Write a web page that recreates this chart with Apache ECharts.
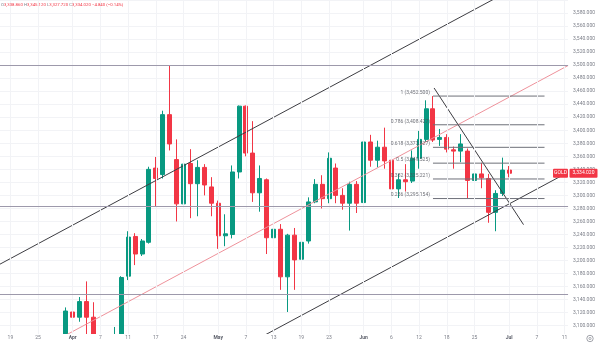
<!DOCTYPE html>
<html>
<head>
<meta charset="utf-8">
<script src="https://cdn.jsdelivr.net/npm/echarts@6/dist/echarts.min.js"></script>
<style>
html,body{margin:0;padding:0;background:#fff;}
#chart{width:600px;height:347px;}
</style>
</head>
<body>
<div id="chart"></div>
<script>
// Daily GOLD bars (trading days); null = outside the visible price range / future slots
const dates = [
  '2025-03-18','2025-03-19','2025-03-20','2025-03-21','2025-03-24','2025-03-25','2025-03-26','2025-03-27','2025-03-28',
  '2025-03-31',
  '2025-04-01','2025-04-02','2025-04-03','2025-04-04','2025-04-07','2025-04-08','2025-04-09','2025-04-10','2025-04-11',
  '2025-04-14','2025-04-15','2025-04-16','2025-04-17','2025-04-21','2025-04-22','2025-04-23','2025-04-24','2025-04-25',
  '2025-04-28','2025-04-29','2025-04-30',
  '2025-05-01','2025-05-02','2025-05-05','2025-05-06','2025-05-07','2025-05-08','2025-05-09','2025-05-12','2025-05-13',
  '2025-05-14','2025-05-15','2025-05-16','2025-05-19','2025-05-20','2025-05-21','2025-05-22','2025-05-23','2025-05-27',
  '2025-05-28','2025-05-29','2025-05-30',
  '2025-06-02','2025-06-03','2025-06-04','2025-06-05','2025-06-06','2025-06-09','2025-06-10','2025-06-11','2025-06-12',
  '2025-06-13','2025-06-16','2025-06-17','2025-06-18','2025-06-20','2025-06-23','2025-06-24','2025-06-25','2025-06-26',
  '2025-06-27','2025-06-30',
  '2025-07-01','2025-07-02','2025-07-03','2025-07-04','2025-07-07','2025-07-08','2025-07-09','2025-07-10','2025-07-11',
  '2025-07-14'
];

const opens = [
  null,null,null,null,null,null,null,null,null,3084,
  3121,3113,3137,3113,null,null,2982,3083,3176,
  3237,3210,3228,3342,3332,3424,3355,3287,3349,
  3318,3343,3313,
  3288,3238,3240,3336,3437,3365,3304,3324,3235,
  3248,3175,3239,3202,3230,3290,3317,3295,3342,
  3300,3288,3317,
  3289,3382,3354,3374,3354,3310,3324,3322,3357,
  3386,3433,3386,3389,3370,3368,3368,3323,3333,
  3326,3274,
  3303,3338.86,null,null,null,null,null,null,null,
  null
];
const closes = [
  null,null,null,null,null,null,null,null,null,3122.5,
  3113,3137,3113,3037,null,null,3083,3174,3236,
  3210,3230,3340,3326,3424,3379,3287,3348,3318,
  3343,3316,3288,
  3238,3241,3336,3437,3365,3304,3326,3235,3248,
  3175,3239,3201,3228,3290,3317,3295,3357,3300,
  3288,3317,3288,
  3382,3354,3374,3353,3310,3324,3321,3357,3386,
  3433,3385,3389,3371,3368,3379,3323,3333,3327,
  3274,3303,
  3338.86,3334.02,null,null,null,null,null,null,null,
  null
];
const lows = [
  null,null,null,null,null,null,null,null,null,3076,
  3100,3106,3054,3015,null,null,2970,3073,3170,
  3193,3207,3226,3283,3326,3369,3260,3283,3265,
  3268,3300,3268,
  3218,3222,3234,3326,3360,3290,3275,3210,3215,
  3155,3121,3155,3189,3226,3288,3280,3288,3288,
  3278,3246,3273,
  3286,3344,3343,3341,3307,3296,3306,3319,3341,
  3382,3382,3376,3366,3341,3351,3296,3311,3311,
  3258,3245,
  3299,3327.72,null,null,null,null,null,null,null,
  null
];
const highs = [
  null,null,null,null,null,null,null,null,null,3128,
  3149,3144,3168,3136,null,null,3098,3176,3245,
  3242,3233,3344,3359,3430,3500,3386,3369,3371,
  3354,3348,3328,
  3292,3271,3346,3438,3438,3414,3346,3326,3255,
  3256,3241,3250,3250,3297,3325,3331,3366,3349,
  3311,3321,3322,
  3384,3393,3384,3404,3375,3333,3348,3369,3399,
  3446,3452.5,3402,3394,3375,3394,3372,3350,3350,
  3333,3308,
  3358,3345.12,null,null,null,null,null,null,null,
  null
];

// Time-scale labels, keyed by bar slot
const tickText = {
  1:'19', 5:'25', 10:'Apr', 14:'7', 18:'11', 22:'17', 26:'24', 31:'May', 35:'7', 39:'13',
  43:'19', 47:'23', 52:'Jun', 56:'6', 60:'12', 64:'18', 68:'25', 73:'Jul', 77:'7', 81:'11'
};
const monthNames = ['Apr','May','Jun','Jul'];

// Price scale
const priceMin = 3080, priceMax = 3600, priceStep = 20;
const priceLabelMin = 3100, priceLabelMax = 3580;

// Drawings: [bar slot, price]
const channelUpper  = [[-1, 3191.6], [71, 3602.6]];
const channelMiddle = [[5, 3062.6], [81.5, 3499.4]];
const channelLower  = [[35, 3070.0], [81.5, 3335.5]];
const trendLine     = [[62.16, 3464.9], [75.07, 3255.1]];
const levelLines    = [3500, 3284, 3149];
const fibRatios     = ['1', '0.786', '0.618', '0.5', '0.382', '0.236'];
const fibPrices     = [3452.5, 3408.427, 3373.827, 3349.525, 3325.221, 3295.154];
const fibSpan       = [62, 78.1];
const symbolName    = 'GOLD';

const UP = '#089981', DOWN = '#f23645', TXT = '#7b7e88';
const FONT = 'Roboto, "Liberation Sans", sans-serif';

const fmt3 = v => v.toLocaleString('en-US', {minimumFractionDigits: 3, maximumFractionDigits: 3});

const candles = dates.map((d, i) =>
  opens[i] == null ? '-' : [opens[i], closes[i], lows[i], highs[i]]);

const lastIdx = closes.reduce((acc, v, i) => (v != null ? i : acc), 0);
const lastClose = closes[lastIdx];
const prevClose = closes[lastIdx - 1];

const chart = echarts.init(document.getElementById('chart'), null, {renderer: 'canvas'});

const barW = 6.97;
const drawLine = (data, color, width) => ({
  type: 'line', xAxisIndex: 1, yAxisIndex: 0, data: data,
  showSymbol: false, symbol: 'none', silent: true, z: 4,
  lineStyle: {color: color, width: width}
});

const option = {
  animation: false,
  backgroundColor: '#ffffff',
  grid: {left: 3.5 - barW, top: -4.2, width: barW * dates.length, height: 342.9, containLabel: false},
  xAxis: [
    {
      type: 'category', data: dates, boundaryGap: true, z: 100,
      axisLine: {show: false}, axisTick: {show: false}, splitLine: {show: false},
      axisLabel: {
        interval: 0, margin: -3, fontSize: 5, color: TXT, fontFamily: FONT,
        formatter: (val, idx) => {
          const t = tickText[idx];
          if (!t) return '';
          return monthNames.includes(t) ? '{m|' + t + '}' : t;
        },
        rich: {m: {fontSize: 5, fontWeight: 'bold', color: '#5d606b', fontFamily: FONT}}
      }
    },
    {type: 'value', min: -0.5, max: dates.length - 0.5, show: false}
  ],
  yAxis: {
    type: 'value', position: 'right', min: priceMin, max: priceMax, interval: priceStep, scale: true,
    axisLine: {show: false}, axisTick: {show: false},
    splitLine: {lineStyle: {color: '#f2f3f6', width: 1}},
    axisLabel: {
      margin: 5, fontSize: 5, color: TXT, fontFamily: FONT, align: 'left',
      formatter: v => (v < priceLabelMin || v > priceLabelMax) ? '' : fmt3(v)
    }
  },
  series: [
    {
      // faint vertical grid at time-scale labels
      type: 'line', xAxisIndex: 0, data: [], silent: true, z: 0,
      markLine: {
        silent: true, symbol: ['none', 'none'], label: {show: false}, animation: false,
        lineStyle: {color: '#f2f3f6', width: 1, type: 'solid'},
        data: Object.keys(tickText).map(k => ({xAxis: Number(k)}))
      }
    },
    {
      type: 'candlestick', xAxisIndex: 0, yAxisIndex: 0, data: candles, barWidth: 4.5, z: 2,
      itemStyle: {color: UP, color0: DOWN, borderColor: UP, borderColor0: DOWN, borderWidth: 1}
    },
    {
      // horizontal support / resistance lines
      type: 'line', xAxisIndex: 1, data: [], silent: true, z: 3,
      markLine: {
        silent: true, symbol: ['none', 'none'], label: {show: false}, animation: false,
        lineStyle: {color: '#9d99ab', width: 1, type: 'solid'},
        data: levelLines.map(v => ({yAxis: v}))
      }
    },
    drawLine(channelUpper, '#3d3d42', 1),
    drawLine(channelMiddle, '#ee929b', 1),
    drawLine(channelLower, '#3d3d42', 1),
    drawLine(trendLine, '#3d3d42', 1),
    ...fibPrices.map(p => drawLine([[fibSpan[0], p], [fibSpan[1], p]], '#6e7079', 1)),
    {
      type: 'scatter', xAxisIndex: 1, yAxisIndex: 0, silent: true, z: 5,
      symbolSize: 0.1, itemStyle: {color: 'rgba(0,0,0,0)'},
      data: fibPrices.map((p, i) => ({value: [fibSpan[0], p], name: fibRatios[i]})),
      label: {
        show: true, position: 'left', distance: 3, offset: [0, -3.5],
        fontSize: 5, color: '#4a4c55', fontFamily: FONT,
        formatter: pt => pt.name + ' (' + fmt3(pt.value[1]) + ')'
      }
    }
  ]
};

chart.setOption(option);

// overlays placed through the price scale
const yLast = chart.convertToPixel({yAxisIndex: 0}, lastClose);
const chg = lastClose - prevClose;
const sign = chg < 0 ? '\u2212' : '+';
const header =
  '{k|O}{v|' + fmt3(opens[lastIdx]) + '} ' +
  '{k|H}{v|' + fmt3(highs[lastIdx]) + '} ' +
  '{k|L}{v|' + fmt3(lows[lastIdx]) + '} ' +
  '{k|C}{v|' + fmt3(lastClose) + '} ' +
  '{v|' + sign + Math.abs(chg).toFixed(3) + ' (' + sign + Math.abs(chg / prevClose * 100).toFixed(2) + '%)}';

const HEAD_SIZE = 4.3;

chart.setOption({
  graphic: [
    {
      type: 'rect', z: 50, silent: true,
      shape: {x: 0, y: 334, width: 571, height: 13},
      style: {fill: '#ffffff'}
    },
    {
      type: 'text', z: 60, left: 1, top: 2.5, silent: true,
      style: {
        text: header, fontSize: HEAD_SIZE, fontFamily: FONT,
        rich: {
          k: {fill: '#7b7e88', fontSize: HEAD_SIZE, fontFamily: FONT},
          v: {fill: DOWN, fontSize: HEAD_SIZE, fontFamily: FONT}
        }
      }
    },
    {
      type: 'rect', z: 60, silent: true,
      shape: {x: 553, y: yLast - 4.5, width: 15, height: 9, r: 1},
      style: {fill: DOWN}
    },
    {
      type: 'text', z: 61, silent: true, x: 560.5, y: yLast,
      style: {text: symbolName, fill: '#ffffff', fontSize: 5, fontFamily: FONT, align: 'center', verticalAlign: 'middle'}
    },
    {
      type: 'rect', z: 60, silent: true,
      shape: {x: 569.5, y: yLast - 4.5, width: 28, height: 9, r: 1},
      style: {fill: DOWN}
    },
    {
      type: 'text', z: 61, silent: true, x: 583.5, y: yLast,
      style: {text: fmt3(lastClose), fill: '#ffffff', fontSize: 5, fontFamily: FONT, align: 'center', verticalAlign: 'middle'}
    },
    {
      type: 'circle', z: 60, silent: true,
      shape: {cx: 590, cy: 338.5, r: 3.2},
      style: {fill: 'none', stroke: '#8a8d96', lineWidth: 0.8}
    },
    {
      type: 'circle', z: 60, silent: true,
      shape: {cx: 590, cy: 338.5, r: 1.1},
      style: {fill: 'none', stroke: '#8a8d96', lineWidth: 0.7}
    }
  ]
});
</script>
</body>
</html>
